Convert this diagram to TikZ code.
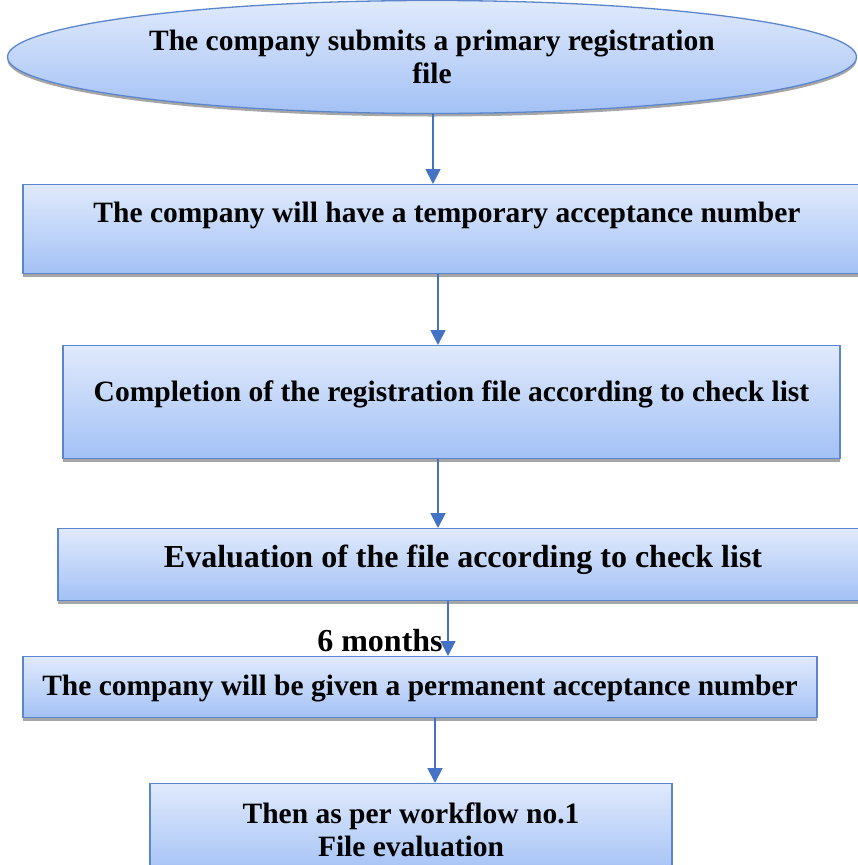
\documentclass[tikz,border=0pt]{standalone}
\usepackage{fontspec}
\setmainfont{Liberation Serif}
\usetikzlibrary{shapes.geometric, shadows, arrows.meta}

\definecolor{boxtop}{HTML}{E0EAFC}
\definecolor{boxbot}{HTML}{A3C1F5}
\definecolor{boxline}{HTML}{5B86CC}
\definecolor{arrowblue}{HTML}{4472C4}

\begin{document}
\begin{tikzpicture}[x=1pt, y=-1pt,
  stepbox/.style={draw=boxline, line width=1.3pt, rectangle, inner sep=0pt,
    top color=boxtop, bottom color=boxbot, align=center,
    drop shadow={shadow xshift=0pt, shadow yshift=-3pt, fill=gray!70, opacity=1},
    font=\bfseries\fontsize{29.5}{33}\selectfont},
  startnode/.style={stepbox, ellipse},
  bigtext/.style={font=\bfseries\fontsize{32}{36}\selectfont},
  flow/.style={draw=arrowblue, line width=1.8pt, -{Triangle[width=15pt,length=15pt]}}]
\useasboundingbox (0,0) rectangle (857,865);

\node[startnode, minimum width=849, minimum height=113] (submit) at (432,57)
  {The company submits a primary registration\\file};
\node[stepbox, anchor=north, minimum width=848, text height=38, text depth=51] (temp) at (447,184)
  {The company will have a temporary acceptance number};
\node[stepbox, anchor=north, minimum width=777, text height=56, text depth=57] (complete) at (451.5,345)
  {Completion of the registration file according to check list};
\node[stepbox, bigtext, anchor=north, minimum width=810, text height=39, text depth=33] (eval) at (463,528)
  {Evaluation of the file according to check list};
\node[stepbox, anchor=north, minimum width=794, text height=39, text depth=22] (perm) at (420,656)
  {The company will be given a permanent acceptance number};
\node[stepbox, anchor=north, minimum width=522, minimum height=92] (then) at (411,783)
  {Then as per workflow no.1\\File evaluation};
\node[bigtext, inner sep=0pt] (months) at (380,641) {6 months};

% arrows between the steps
\draw[flow] (submit.south -| 433,0) -- (temp.north -| 433,0);
\draw[flow] (temp.south -| 438,0) -- (complete.north -| 438,0);
\draw[flow] (complete.south -| 438,0) -- (eval.north -| 438,0);
\draw[flow] (eval.south -| 448,0) -- (perm.north -| 448,0);
\draw[flow] (perm.south -| 435,0) -- (then.north -| 435,0);

\end{tikzpicture}
\end{document}
